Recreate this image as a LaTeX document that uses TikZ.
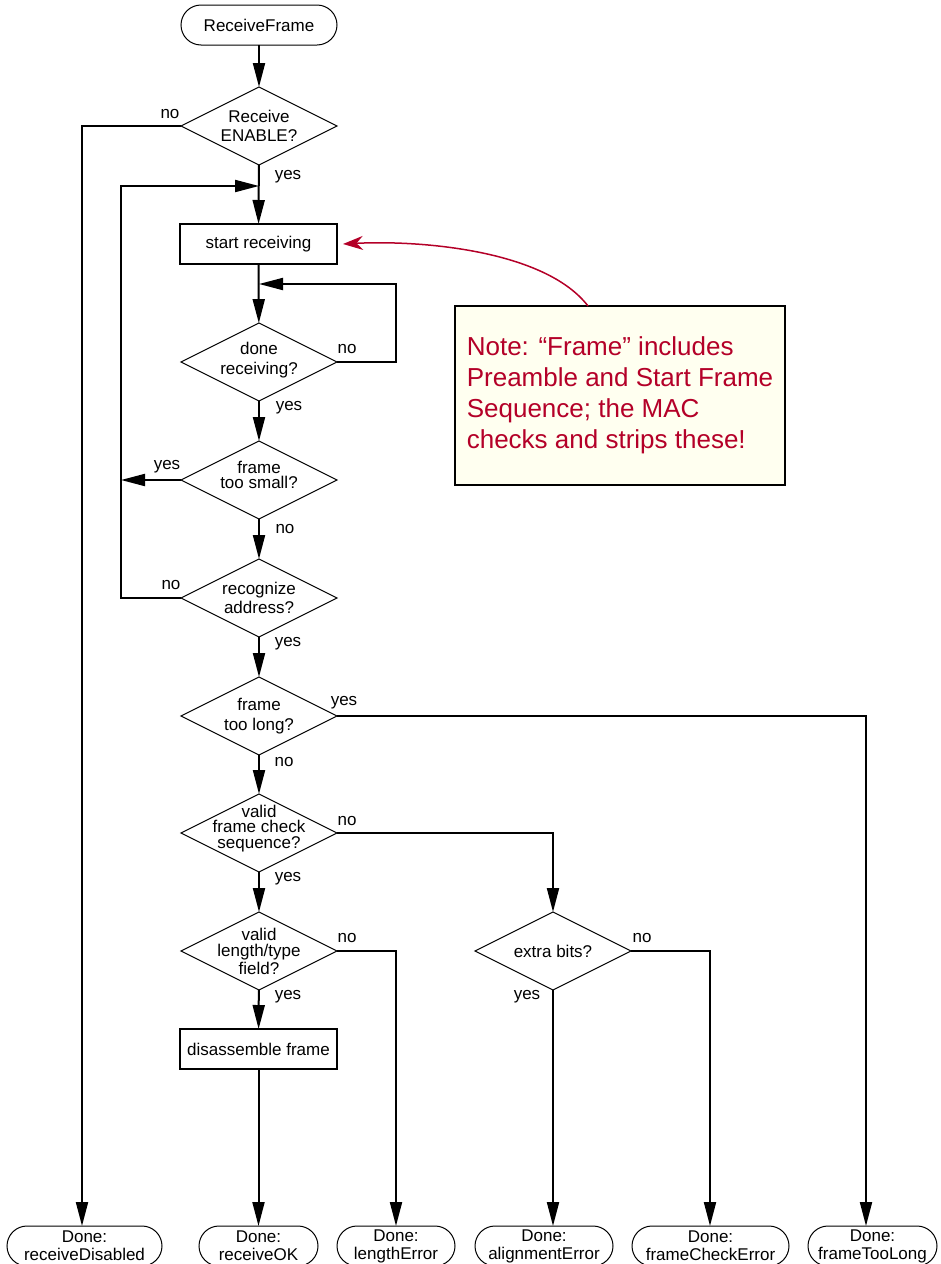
\documentclass[tikz,border=0pt]{standalone}
\usepackage{fontspec}
\setmainfont{Liberation Sans}
\usetikzlibrary{arrows.meta,shapes.geometric}
\definecolor{notered}{RGB}{180,0,40}
\definecolor{notefill}{RGB}{255,255,240}
\begin{document}
\begin{tikzpicture}[x=1pt,y=-1pt,
  font=\fontsize{17}{20}\selectfont,
  every node/.style={outer sep=0pt},
  flow/.style={line width=2pt, -{Triangle[length=24pt,width=12pt]}},
  term/.style={draw, line width=1pt, rounded corners=20pt, minimum height=40pt, inner sep=0pt, align=center},
  proc/.style={draw, line width=2pt, minimum width=157pt, minimum height=40pt, inner sep=0pt},
  decision/.style={draw, diamond, line width=1pt, minimum width=156pt, minimum height=78pt, inner sep=0pt},
  dtext/.style={align=center, inner sep=0pt},
  lbl/.style={inner sep=0pt}]
\path[use as bounding box, clip] (0,0) rectangle (940,1264);
\coordinate (colL) at (82,0);
\coordinate (colLoop) at (121,0);
\coordinate (colR) at (396,0);
\coordinate (colX) at (553,0);
\coordinate (colF) at (710,0);
\coordinate (colT) at (866,0);
\coordinate (loopin) at (259,186);
\coordinate (doneret) at (259,284);
\node[term, minimum width=156pt] (start) at (259,25) {ReceiveFrame};
\node[decision, label={[dtext]center:{Receive\\[-1pt]ENABLE?}}] (enable) at (259,126) {};
\node[proc] (recv) at (258.5,244) {start receiving};
\node[decision, label={[dtext,yshift=2pt]center:{done\\receiving?}}] (done) at (259,362) {};
\node[decision, label={[dtext,yshift=5pt]center:{frame\\[-5pt]too small?}}] (small) at (259,480) {};
\node[decision, label={[dtext]center:{recognize\\[-1pt]address?}}] (addr) at (259,598) {};
\node[decision, label={[dtext]center:{frame\\too long?}}] (long) at (259,716) {};
\node[decision, label={[dtext,yshift=4pt]center:{valid\\[-5pt]frame check\\[-4pt]sequence?}}] (fcs) at (259,833) {};
\node[decision, label={[dtext]center:{valid\\[-4pt]length/type\\[-2pt]field?}}] (ltype) at (259,951) {};
\node[decision, label={[dtext]center:{extra bits?}}] (extra) at (553,951) {};
\node[proc] (disasm) at (258.5,1049) {disassemble frame};
\node[term, minimum width=155pt] (rdis) at (84.5,1246) {Done:\\[-2pt]receiveDisabled};
\node[term, minimum width=119pt] (rok) at (258.5,1246) {Done:\\[-2pt]receiveOK};
\node[term, minimum width=118pt] (rlen) at (396,1246) {Done:\\[-2pt]lengthError};
\node[term, minimum width=138pt] (raln) at (544,1246) {Done:\\[-2pt]alignmentError};
\node[term, minimum width=157pt] (rfce) at (710.5,1246) {Done:\\[-2pt]frameCheckError};
\node[term, minimum width=129pt] (rtl) at (872.5,1246) {Done:\\[-2pt]frameTooLong};
\node[draw, line width=2pt, fill=notefill, minimum width=330pt, minimum height=179pt, align=left, text=notered, font=\fontsize{26}{31}\selectfont, inner sep=0pt] (note) at (620,395.5) {Note: “Frame” includes\\Preamble and Start Frame\\Sequence; the MAC\\checks and strips these!};
\node[lbl] (lEnNo) at (170,114) {no};
\node[lbl] (lEnYes) at (288,177) {yes};
\node[lbl] (lDoNo) at (347,349) {no};
\node[lbl] (lDoYes) at (289,408) {yes};
\node[lbl] (lSmYes) at (167,467) {yes};
\node[lbl] (lSmNo) at (285,529) {no};
\node[lbl] (lAdNo) at (171,585) {no};
\node[lbl] (lAdYes) at (288,644) {yes};
\node[lbl] (lLoYes) at (344,703) {yes};
\node[lbl] (lLoNo) at (284,762) {no};
\node[lbl] (lFcNo) at (347,821) {no};
\node[lbl] (lFcYes) at (288,879) {yes};
\node[lbl] (lLtNo) at (347,938) {no};
\node[lbl] (lLtYes) at (288,997) {yes};
\node[lbl] (lExNo) at (642,938) {no};
\node[lbl] (lExYes) at (527,997) {yes};
\draw[flow] (start) -- (enable);
\draw[flow] (enable) -- (recv);
\draw[flow] (recv) -- (done);
\draw[flow] (done) -- (small);
\draw[flow] (small) -- (addr);
\draw[flow] (addr) -- (long);
\draw[flow] (long) -- (fcs);
\draw[flow] (fcs) -- (ltype);
\draw[flow] (ltype) -- (disasm);
\draw[flow] (enable.west) -- (enable.west -| colL) -- (colL |- rdis.north);
\draw[flow] (addr.west) -- (addr.west -| colLoop) -- (loopin -| colLoop) -- (loopin);
\draw[flow] (done.east) -- (done.east -| colR) -- (doneret -| colR) -- (doneret);
\draw[flow] (small.west) -- (small.west -| colLoop);
\draw[flow] (long.east) -- (long.east -| colT) -- (colT |- rtl.north);
\draw[flow] (fcs.east) -- (fcs.east -| colX) -- (extra.north);
\draw[flow] (ltype.east) -- (ltype.east -| colR) -- (colR |- rlen.north);
\draw[flow] (disasm.south) -- (disasm.south |- rok.north);
\draw[flow] (extra.south) -- (extra.south |- raln.north);
\draw[flow] (extra.east) -- (extra.east -| colF) -- (colF |- rfce.north);
\draw[notered, line width=1.5pt, -{Stealth[length=20pt,width=14pt]}] ([xshift=-32pt]note.north) .. controls (545,250) and (420,240) .. ([xshift=6pt]recv.east);
\end{tikzpicture}
\end{document}
